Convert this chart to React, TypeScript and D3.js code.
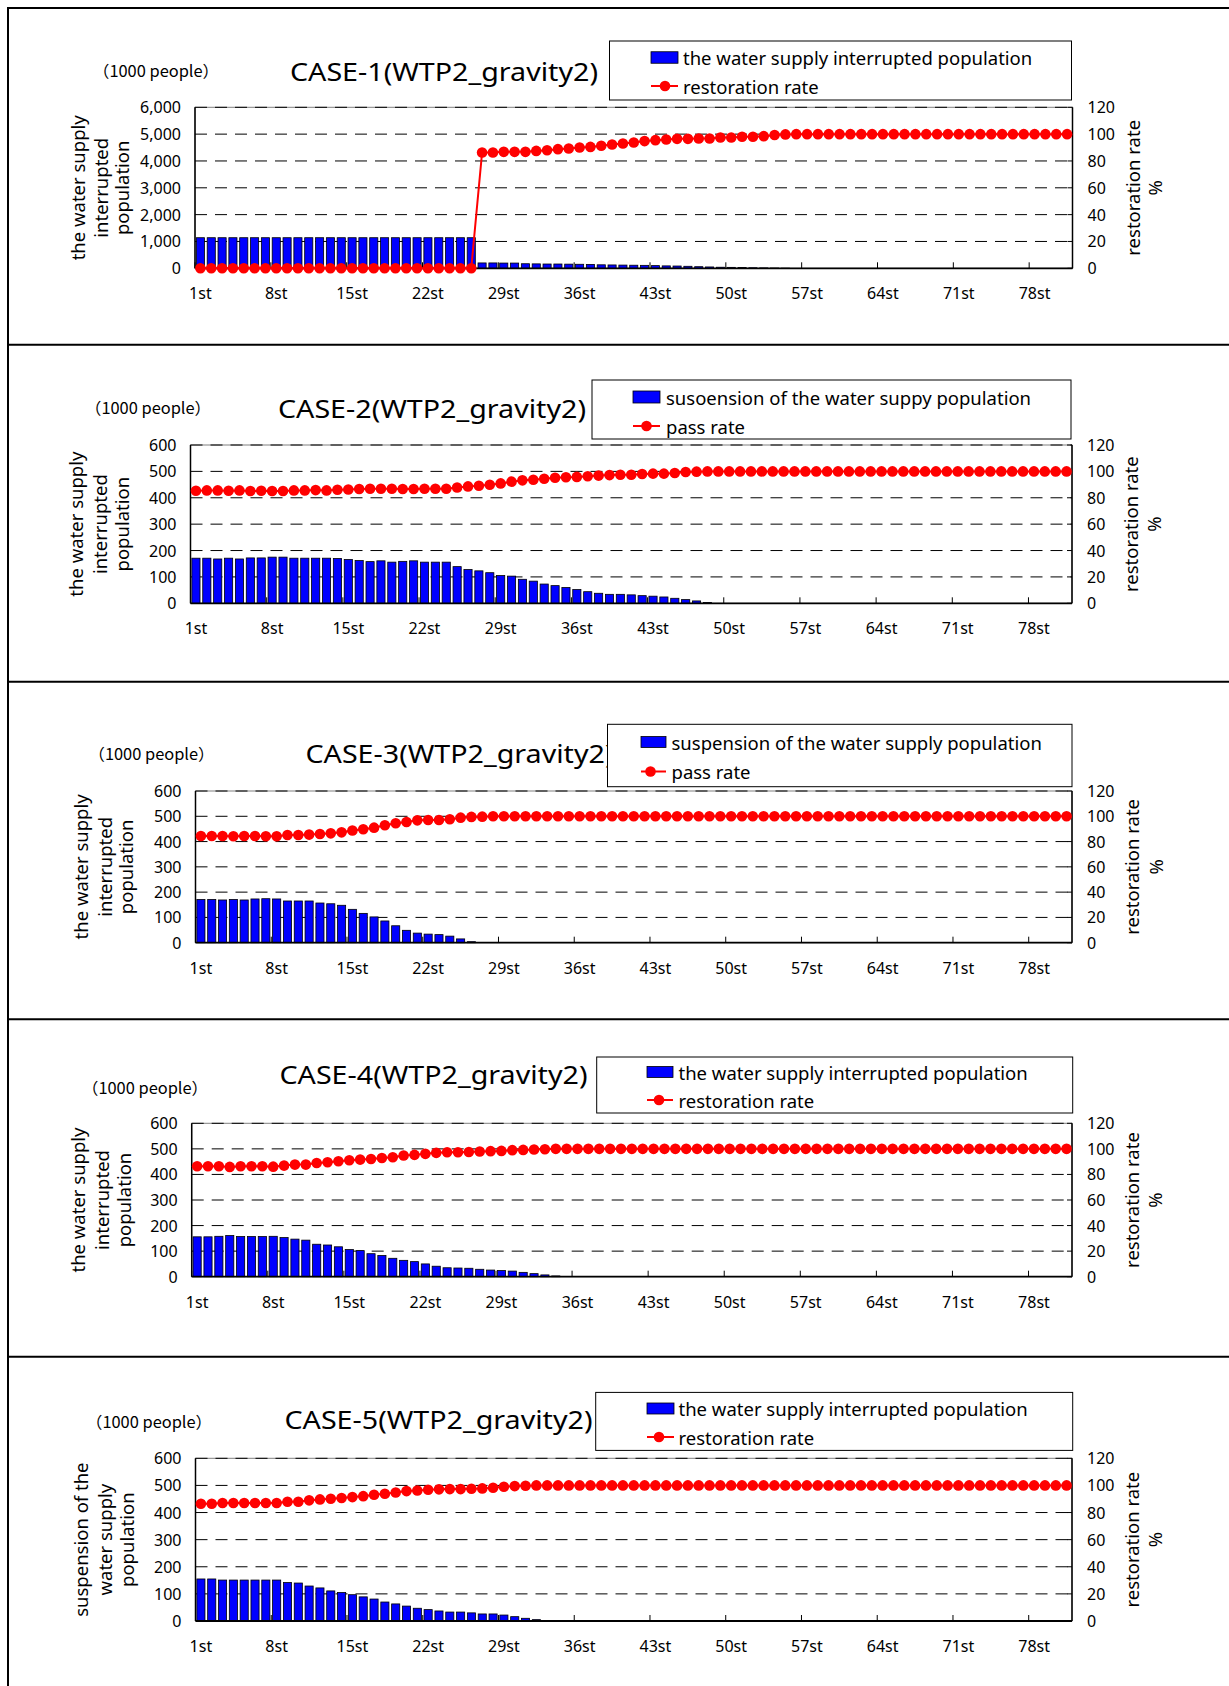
import React from "react";
import * as d3 from "d3";

// ---------------- DATA ----------------
const categories: string[] = d3.range(1, 82).map((i) => `${i}st`);

const caseTitles = [
  "CASE-1(WTP2_gravity2)",
  "CASE-2(WTP2_gravity2)",
  "CASE-3(WTP2_gravity2)",
  "CASE-4(WTP2_gravity2)",
  "CASE-5(WTP2_gravity2)",
];

const barLegendLabels = [
  "the water supply interrupted population",
  "susoension of the water suppy population",
  "suspension of the water supply population",
  "the water supply interrupted population",
  "the water supply interrupted population",
];

const lineLegendLabels = [
  "restoration rate",
  "pass rate",
  "pass rate",
  "restoration rate",
  "restoration rate",
];

const leftAxisTitles = [
  ["the water supply", "interrupted", "population"],
  ["the water supply", "interrupted", "population"],
  ["the water supply", "interrupted", "population"],
  ["the water supply", "interrupted", "population"],
  ["suspension of the", "water supply", "population"],
];

const rightAxisTitle = ["restoration rate", "%"];
const unitLabel = "（1000 people）";

const leftAxisMax = [6000, 600, 600, 600, 600];
const leftAxisStep = [1000, 100, 100, 100, 100];
const rightTicks = [0, 20, 40, 60, 80, 100, 120];

const case1Pop = [
  1140, 1140, 1140, 1140, 1140, 1140, 1140, 1140, 1140, 1140,
  1140, 1140, 1140, 1140, 1140, 1140, 1140, 1140, 1140, 1140,
  1140, 1140, 1140, 1140, 1140, 1140, 200, 200, 195, 195,
  170, 165, 160, 160, 155, 150, 145, 130, 125, 120,
  115, 110, 100, 90, 85, 75, 60, 50, 40, 35,
  30, 20, 15, 10, 5, 0, 0, 0, 0, 0,
  0, 0, 0, 0, 0, 0, 0, 0, 0, 0,
  0, 0, 0, 0, 0, 0, 0, 0, 0, 0,
  0,
];
const case1Rate = [
  0, 0, 0, 0, 0, 0, 0, 0, 0, 0,
  0, 0, 0, 0, 0, 0, 0, 0, 0, 0,
  0, 0, 0, 0, 0, 0, 86.3, 86.3, 86.8, 86.8,
  86.8, 87.5, 88, 88.8, 89.3, 90, 90.5, 91.3, 92.3, 93,
  93.8, 94.8, 95.5, 96, 96.5, 96.5, 96.8, 96.8, 97.5, 97.5,
  98, 98, 98.5, 99.3, 99.8, 100, 100, 100, 100, 100,
  100, 100, 100, 100, 100, 100, 100, 100, 100, 100,
  100, 100, 100, 100, 100, 100, 100, 100, 100, 100,
  100,
];

const case2Pop = [
  171, 171, 168, 171, 168, 172, 172, 175, 175, 171,
  171, 171, 171, 170, 166, 162, 158, 161, 156, 159,
  161, 156, 156, 156, 139, 128, 123, 116, 105, 103,
  91, 84, 73, 67, 60, 52, 44, 38, 34, 34,
  32, 29, 27, 24, 19, 14, 9, 3, 0, 0,
  0, 0, 0, 0, 0, 0, 0, 0, 0, 0,
  0, 0, 0, 0, 0, 0, 0, 0, 0, 0,
  0, 0, 0, 0, 0, 0, 0, 0, 0, 0,
  0,
];
const case2Rate = [
  85.3, 85.6, 85.6, 85.3, 85.6, 85.1, 85.3, 85.1, 85.1, 85.6,
  85.6, 85.8, 85.6, 86.1, 86.3, 86.6, 86.8, 86.8, 86.8, 86.6,
  86.6, 86.8, 86.8, 86.8, 87.8, 88.6, 89.1, 89.9, 90.9, 92.2,
  93.2, 93.7, 94.4, 95.2, 95.5, 95.8, 96.3, 96.8, 97.2, 97.5,
  97.5, 98, 98.3, 98.3, 98.8, 99.5, 99.8, 100, 100, 100,
  100, 100, 100, 100, 100, 100, 100, 100, 100, 100,
  100, 100, 100, 100, 100, 100, 100, 100, 100, 100,
  100, 100, 100, 100, 100, 100, 100, 100, 100, 100,
  100,
];

const case3Pop = [
  171, 171, 169, 171, 169, 173, 174, 173, 165, 165,
  165, 157, 154, 148, 132, 116, 102, 86, 67, 49,
  38, 34, 32, 26, 15, 4, 0, 0, 0, 0,
  0, 0, 0, 0, 0, 0, 0, 0, 0, 0,
  0, 0, 0, 0, 0, 0, 0, 0, 0, 0,
  0, 0, 0, 0, 0, 0, 0, 0, 0, 0,
  0, 0, 0, 0, 0, 0, 0, 0, 0, 0,
  0, 0, 0, 0, 0, 0, 0, 0, 0, 0,
  0,
];
const case3Rate = [
  84.4, 84.4, 84.4, 84.2, 84.4, 84.4, 84.2, 84.2, 85.2, 85.2,
  85.5, 86, 86.5, 87.3, 88.7, 89.7, 91, 92.9, 94.5, 95.5,
  96.8, 97.1, 97.1, 97.6, 98.9, 99.5, 99.7, 100, 100, 100,
  100, 100, 100, 100, 100, 100, 100, 100, 100, 100,
  100, 100, 100, 100, 100, 100, 100, 100, 100, 100,
  100, 100, 100, 100, 100, 100, 100, 100, 100, 100,
  100, 100, 100, 100, 100, 100, 100, 100, 100, 100,
  100, 100, 100, 100, 100, 100, 100, 100, 100, 100,
  100,
];

const case4Pop = [
  156, 156, 158, 161, 157, 157, 157, 158, 153, 147,
  143, 127, 124, 117, 106, 102, 90, 83, 72, 64,
  59, 50, 41, 35, 34, 33, 29, 26, 24, 22,
  17, 12, 7, 3, 0, 0, 0, 0, 0, 0,
  0, 0, 0, 0, 0, 0, 0, 0, 0, 0,
  0, 0, 0, 0, 0, 0, 0, 0, 0, 0,
  0, 0, 0, 0, 0, 0, 0, 0, 0, 0,
  0, 0, 0, 0, 0, 0, 0, 0, 0, 0,
  0,
];
const case4Rate = [
  86.4, 86.4, 86.4, 85.9, 86.4, 86.4, 86.4, 86.1, 86.9, 87.7,
  87.7, 89, 89.5, 90.3, 91.1, 91.6, 92.1, 92.9, 93.5, 94.8,
  95.3, 96.1, 96.9, 97.4, 97.4, 97.6, 97.9, 98.2, 98.4, 99,
  99.2, 99.5, 99.7, 100, 100, 100, 100, 100, 100, 100,
  100, 100, 100, 100, 100, 100, 100, 100, 100, 100,
  100, 100, 100, 100, 100, 100, 100, 100, 100, 100,
  100, 100, 100, 100, 100, 100, 100, 100, 100, 100,
  100, 100, 100, 100, 100, 100, 100, 100, 100, 100,
  100,
];

const case5Pop = [
  155, 155, 151, 151, 151, 151, 151, 151, 142, 140,
  129, 122, 111, 105, 97, 89, 81, 70, 63, 55,
  47, 42, 37, 33, 33, 30, 26, 26, 22, 16,
  10, 5, 0, 0, 0, 0, 0, 0, 0, 0,
  0, 0, 0, 0, 0, 0, 0, 0, 0, 0,
  0, 0, 0, 0, 0, 0, 0, 0, 0, 0,
  0, 0, 0, 0, 0, 0, 0, 0, 0, 0,
  0, 0, 0, 0, 0, 0, 0, 0, 0, 0,
  0,
];
const case5Rate = [
  86.5, 86.5, 87, 87, 87, 87, 87, 87, 88, 88,
  89, 89.7, 90.2, 90.7, 91.4, 92.1, 93.1, 93.9, 94.8, 95.8,
  96.3, 96.8, 97.1, 97.3, 97.3, 97.5, 97.8, 98.3, 99, 99.5,
  99.8, 100, 100, 100, 100, 100, 100, 100, 100, 100,
  100, 100, 100, 100, 100, 100, 100, 100, 100, 100,
  100, 100, 100, 100, 100, 100, 100, 100, 100, 100,
  100, 100, 100, 100, 100, 100, 100, 100, 100, 100,
  100, 100, 100, 100, 100, 100, 100, 100, 100, 100,
  100,
];

const popSeries = [case1Pop, case2Pop, case3Pop, case4Pop, case5Pop];
const rateSeries = [case1Rate, case2Rate, case3Rate, case4Rate, case5Rate];

// ---------------- LAYOUT ----------------
const W = 1229;
const H = 1686;
const FONT = "'Noto Sans', 'DejaVu Sans', sans-serif";
const JPFONT = "'Noto Sans CJK JP', 'Noto Sans', sans-serif";
const frameLines = [8, 344.7, 681.7, 1019.3, 1356.7];
const TITLE_W = 308;
const UNIT_W = 126;

const layouts = [
  {
    plot: { x0: 195, x1: 1072.5, y0: 107.3, y1: 268.3 },
    unit: { x: 156, y: 70 }, title: { x: 290, y: 71 },
    legend: { x: 609.5, y: 41, w: 462, h: 59, rectX: 651, rectW: 27, rectH: 11.5, textX: 683, row1: 57.5, row2: 86, markerX: 665 },
    leftTitleX: [77, 100, 121.5], rightTitleX: [1132, 1154],
  },
  {
    plot: { x0: 190.5, x1: 1072, y0: 445, y1: 603.3 },
    unit: { x: 148, y: 407 }, title: { x: 278, y: 408 },
    legend: { x: 592, y: 380, w: 479, h: 59, rectX: 633, rectW: 27, rectH: 12, textX: 666, row1: 397, row2: 426, markerX: 646.5 },
    leftTitleX: [75.5, 99, 121.5], rightTitleX: [1130, 1153.5],
  },
  {
    plot: { x0: 195.5, x1: 1072, y0: 791, y1: 942.7 },
    unit: { x: 151.5, y: 753 }, title: { x: 305.5, y: 753 },
    legend: { x: 607.5, y: 724.3, w: 464.5, h: 62.4, rectX: 641, rectW: 25, rectH: 11, textX: 671.5, row1: 742, row2: 771.5, markerX: 650.5 },
    leftTitleX: [80.5, 104, 125.8], rightTitleX: [1131, 1155],
  },
  {
    plot: { x0: 191.7, x1: 1072, y0: 1123.3, y1: 1276.7 },
    unit: { x: 145, y: 1087 }, title: { x: 279.5, y: 1074 },
    legend: { x: 596.7, y: 1057, w: 476, h: 56, rectX: 647, rectW: 26, rectH: 11, textX: 678.5, row1: 1072, row2: 1100, markerX: 659 },
    leftTitleX: [77.4, 101, 123.6], rightTitleX: [1131, 1154],
  },
  {
    plot: { x0: 195.5, x1: 1072, y0: 1458.3, y1: 1621 },
    unit: { x: 149, y: 1420.5 }, title: { x: 284.5, y: 1419 },
    legend: { x: 595.7, y: 1392.4, w: 477, h: 58, rectX: 647, rectW: 27, rectH: 11, textX: 678.5, row1: 1408.5, row2: 1437, markerX: 659 },
    leftTitleX: [80.6, 104.3, 126.9], rightTitleX: [1131, 1154],
  },
];

const TICK_EVERY = 7;

function Panel({ idx }: { idx: number }) {
  const L = layouts[idx];
  const { x0, x1, y0, y1 } = L.plot;
  const pop = popSeries[idx];
  const rate = rateSeries[idx];
  const x = d3.scaleBand<string>().domain(categories).range([x0, x1]).paddingInner(0.25).paddingOuter(0.125);
  const step = x.step();
  const bw = x.bandwidth();
  const cx = (c: string) => (x(c) as number) + bw / 2;
  const yL = d3.scaleLinear().domain([0, leftAxisMax[idx]]).range([y1, y0]);
  const yR = d3.scaleLinear().domain([0, 120]).range([y1, y0]);
  const leftTicks = d3.range(0, leftAxisMax[idx] + 1, leftAxisStep[idx]);
  const fmt = leftAxisMax[idx] >= 1000 ? d3.format(",") : d3.format("d");
  const line = d3.line<number>().x((_, i) => cx(categories[i])).y((d) => yR(d));
  const labelIdx = categories.map((_, i) => i).filter((i) => i % TICK_EVERY === 0);
  const lg = L.legend;
  const midY = (y0 + y1) / 2;

  return (
    <g>
      {/* unit + title */}
      <text x={L.unit.x - UNIT_W / 2} y={L.unit.y} dominantBaseline="central" fontFamily={JPFONT} fontSize={16} fill="#000" textLength={UNIT_W} lengthAdjust="spacingAndGlyphs">
        {unitLabel}
      </text>
      <text x={L.title.x} y={L.title.y} dominantBaseline="central" fontFamily={FONT} fontSize={25} fill="#000" textLength={TITLE_W} lengthAdjust="spacingAndGlyphs">
        {caseTitles[idx]}
      </text>

      {/* plot area */}
      <rect x={x0} y={y0} width={x1 - x0} height={y1 - y0} fill="#fff" stroke="#808080" strokeWidth={1} />
      {leftTicks.filter((t) => t > 0).map((t) => (
        <line key={"g" + t} x1={x0} x2={x1} y1={yL(t)} y2={yL(t)} stroke="#000" strokeWidth={1} strokeDasharray="12 8" />
      ))}

      {/* bars */}
      {pop.map((v, i) =>
        v > 0 ? (
          <rect key={"b" + i} x={x(categories[i])} y={yL(v)} width={bw} height={y1 - yL(v)} fill="#0000ff" stroke="#000" strokeWidth={0.8} />
        ) : null
      )}

      {/* axes */}
      <line x1={x0} x2={x0} y1={y0} y2={y1} stroke="#000" strokeWidth={1.5} />
      <line x1={x1} x2={x1} y1={y0} y2={y1} stroke="#000" strokeWidth={1.5} />
      <line x1={x0} x2={x1} y1={y1} y2={y1} stroke="#000" strokeWidth={1.8} />
      {labelIdx.map((i) => (
        <line key={"t" + i} x1={x0 + i * step} x2={x0 + i * step} y1={y1} y2={y1 - 6} stroke="#000" strokeWidth={1} />
      ))}
      {rightTicks.map((t) => (
        <line key={"rt" + t} x1={x1} x2={x1 - 5} y1={yR(t)} y2={yR(t)} stroke="#000" strokeWidth={1} />
      ))}

      {/* line series */}
      <path d={line(rate) || ""} fill="none" stroke="#ff0000" strokeWidth={2} />
      {rate.map((v, i) => (
        <circle key={"c" + i} cx={cx(categories[i])} cy={yR(v)} r={5.3} fill="#ff0000" />
      ))}

      {/* tick labels */}
      {leftTicks.map((t) => (
        <text key={"lt" + t} x={x0 - 14} y={yL(t)} textAnchor="end" dominantBaseline="central" fontFamily={FONT} fontSize={16} fill="#000">
          {fmt(t)}
        </text>
      ))}
      {rightTicks.map((t) => (
        <text key={"rl" + t} x={x1 + 15} y={yR(t)} dominantBaseline="central" fontFamily={FONT} fontSize={16} fill="#000">
          {t}
        </text>
      ))}
      {labelIdx.map((i) => (
        <text key={"xl" + i} x={cx(categories[i])} y={y1 + 25} textAnchor="middle" dominantBaseline="central" fontFamily={FONT} fontSize={16} fill="#000">
          {categories[i]}
        </text>
      ))}

      {/* axis titles */}
      {leftAxisTitles[idx].map((s, k) => (
        <text key={"at" + k} transform={`translate(${L.leftTitleX[k]},${midY}) rotate(-90)`} textAnchor="middle" dominantBaseline="central" fontFamily={FONT} fontSize={18.5} fill="#000">
          {s}
        </text>
      ))}
      {rightAxisTitle.map((s, k) => (
        <text key={"rt2" + k} transform={`translate(${L.rightTitleX[k]},${midY}) rotate(-90)`} textAnchor="middle" dominantBaseline="central" fontFamily={FONT} fontSize={18.5} fill="#000">
          {s}
        </text>
      ))}

      {/* legend */}
      <rect x={lg.x} y={lg.y} width={lg.w} height={lg.h} fill="#fff" stroke="#000" strokeWidth={1} />
      <rect x={lg.rectX} y={lg.row1 - lg.rectH / 2} width={lg.rectW} height={lg.rectH} fill="#0000ff" stroke="#000" strokeWidth={0.8} />
      <text x={lg.textX} y={lg.row1} dominantBaseline="central" fontFamily={FONT} fontSize={18.5} fill="#000">
        {barLegendLabels[idx]}
      </text>
      <line x1={lg.rectX} x2={lg.rectX + lg.rectW} y1={lg.row2} y2={lg.row2} stroke="#ff0000" strokeWidth={2} />
      <circle cx={lg.markerX} cy={lg.row2} r={5.3} fill="#ff0000" />
      <text x={lg.textX} y={lg.row2} dominantBaseline="central" fontFamily={FONT} fontSize={18.5} fill="#000">
        {lineLegendLabels[idx]}
      </text>
    </g>
  );
}

export default function App() {
  return (
    <svg width={W} height={H} viewBox={`0 0 ${W} ${H}`} style={{ position: "absolute", left: 0, top: 0, background: "#fff" }}>
      <rect x={0} y={0} width={W} height={H} fill="#fff" />
      {layouts.map((_, i) => (
        <Panel key={i} idx={i} />
      ))}
      <line x1={8} x2={8} y1={7} y2={H} stroke="#000" strokeWidth={2} />
      {frameLines.map((y) => (
        <line key={y} x1={7} x2={W} y1={y} y2={y} stroke="#000" strokeWidth={2} />
      ))}
    </svg>
  );
}
